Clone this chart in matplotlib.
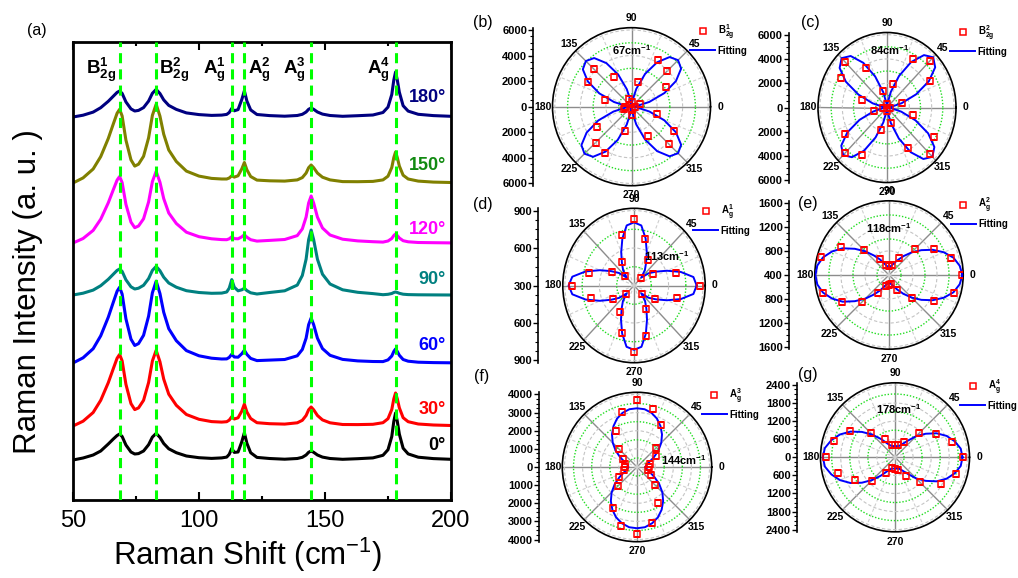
import numpy as np
import matplotlib
matplotlib.use('Agg')
import matplotlib.pyplot as plt
from matplotlib.ticker import MultipleLocator, AutoMinorLocator

plt.rcParams['font.family'] = ['Liberation Sans', 'DejaVu Sans']
plt.rcParams['mathtext.fontset'] = 'custom'
plt.rcParams['mathtext.rm'] = 'Liberation Sans'
plt.rcParams['mathtext.bf'] = 'Liberation Sans:bold'
plt.rcParams['mathtext.it'] = 'Liberation Sans:italic'

# ---------------- panel (a): Raman spectra ----------------
shift = [50, 54, 58, 61, 64, 66, 67.5, 68.5, 69.5, 71, 73, 74.5, 76, 78, 80,
         81.5, 83, 84.5, 86, 88, 91, 95, 100, 105, 109, 111, 112, 113, 114, 115.5,
         117, 118, 119, 120.5, 123, 128, 134, 139, 141, 142.5, 143.5, 144.5, 145.5, 147, 149,
         152, 157, 163, 169, 173, 175, 176.5, 177.3, 178, 178.7, 179.5, 181, 183, 187, 193, 200]

i_0deg = [0, 2, 5, 9, 16, 21, 24.5, 26, 23.5, 15, 8, 6, 6.4, 9, 15.3,
          22.9, 26.6, 22.6, 16.5, 11.2, 7.3, 4, 2.3, 1.6, 2.1, 2.9, 5.7, 11.6, 7.6, 8,
          18.4, 27.3, 16.8, 7.3, 2.6, 1.5, 0.8, 1.5, 2.7, 5, 7.7, 9, 7.7, 5, 2.9,
          1.5, 0.7, 1.3, 2.1, 4.7, 10.3, 23.5, 38.5, 47, 38.5, 25.9, 11.8, 6.1, 2.8, 1.4, 0.7]
i_30deg = [0, 4.8, 13.5, 25.7, 43.3, 57.4, 67.8, 71.6, 65.1, 41.7, 22.4, 16.4, 18.1, 25.7, 43.5,
           65, 75.7, 64.3, 46.9, 31.8, 20.7, 11.5, 6.7, 4.4, 3.9, 4.3, 5.9, 9.3, 7, 8.2,
           15, 22, 14, 7.5, 3.3, 2.3, 1.9, 3.2, 5.7, 10.5, 16.2, 19, 16.2, 10.5, 6.1,
           3.2, 1.5, 1.4, 1.7, 3.3, 7.3, 16.5, 27.1, 33, 27.1, 18.2, 8.3, 4.3, 2, 1, 0.5]
i_60deg = [0, 5.2, 14.3, 27.2, 45.8, 60.8, 71.8, 75.8, 68.9, 44.2, 23.9, 17.5, 19.4, 27.7, 46.9,
           70.2, 81.8, 69.5, 50.7, 34.3, 22.3, 12.4, 7.2, 4.8, 4, 4.1, 5.6, 8.8, 6, 5.8,
           9.3, 12.7, 8.6, 4.6, 2.4, 2.9, 3.5, 7.2, 13.5, 24.8, 38.3, 45, 38.3, 24.8, 14.4,
           7.7, 3.6, 2.1, 1.5, 1.4, 3.1, 7, 11.5, 14, 11.5, 7.7, 3.5, 1.8, 0.8, 0.4, 0.2]
i_90deg = [0, 1.8, 4.9, 9.3, 15.7, 20.8, 24.6, 26, 23.6, 15.2, 8.2, 6, 6.8, 9.7, 16.4,
           24.6, 28.6, 24.3, 17.8, 12, 7.8, 4.3, 2.5, 1.7, 1.9, 3, 6.9, 15.4, 7.8, 4.2,
           5.2, 6.7, 4.4, 2.2, 1, 2.5, 4.2, 9.9, 19.5, 35.8, 55.3, 65, 55.3, 35.8, 20.8,
           11, 5.2, 2.7, 1.4, 0.3, 0.7, 1.5, 2.5, 3, 2.5, 1.7, 0.8, 0.4, 0.2, 0.1, 0]
i_120deg = [0, 4.5, 12.6, 23.8, 40.2, 53.3, 62.9, 66.5, 60.4, 38.7, 20.9, 15.3, 17, 24.2, 41.1,
            61.4, 71.6, 60.8, 44.4, 30, 19.5, 10.8, 6.3, 4.2, 3.4, 3.3, 4.2, 6.2, 4.4, 4.2,
            6.2, 8.3, 5.8, 3.3, 1.9, 2.6, 3.5, 7.4, 14.1, 25.9, 40, 47, 40, 25.9, 15,
            8, 3.8, 2.1, 1.3, 0.9, 2, 4.5, 7.4, 9, 7.4, 5, 2.3, 1.2, 0.5, 0.3, 0.1]
i_150deg = [0, 5.1, 14, 26.4, 44.5, 59.1, 69.8, 73.7, 67, 42.9, 23.2, 16.9, 18.8, 26.7, 45.2,
            67.6, 78.8, 66.9, 48.8, 33, 21.5, 11.9, 6.9, 4.6, 4, 4, 5, 7.2, 5.9, 7.2,
            14.2, 20.5, 13.2, 6.5, 2.9, 2.2, 1.9, 3.1, 5.4, 9.9, 15.3, 18, 15.3, 9.9, 5.8,
            3.1, 1.4, 1.3, 1.6, 3.1, 6.8, 15.5, 25.4, 31, 25.4, 17, 7.8, 4, 1.9, 0.9, 0.5]
i_180deg = [0, 1.8, 4.9, 9.3, 15.7, 20.8, 24.6, 26, 23.6, 15.1, 8.1, 6, 6.6, 9.4, 15.9,
            23.7, 27.6, 23.5, 17.1, 11.6, 7.6, 4.1, 2.4, 1.6, 1.9, 2.6, 4.5, 8.6, 6.2, 7.4,
            17.6, 26.2, 16, 7.1, 2.5, 1.4, 0.8, 1.5, 2.7, 5, 7.7, 9, 7.7, 5, 2.9,
            1.5, 0.7, 1.3, 2, 4.5, 9.9, 22.5, 36.9, 45, 36.9, 24.8, 11.3, 5.9, 2.7, 1.4, 0.7]

spec_angles = ['0°', '30°', '60°', '90°', '120°', '150°', '180°']
spec_offsets = [40, 74, 137, 205, 257, 317, 383]
spec_label_y = [55, 90, 155, 220, 270, 335, 403]
spec_colors = ['#000000', '#ff0000', '#0000ff', '#008080', '#ff00ff', '#808000', '#000080']
label_colors = ['#000000', '#ff0000', '#0000ff', '#008080', '#ff00ff', '#118a11', '#000080']

peak_pos = [68.5, 83, 113, 118, 144.5, 178]
peak_names = [r'$\mathbf{B}^{\mathbf{1}}_{\mathbf{2g}}$', r'$\mathbf{B}^{\mathbf{2}}_{\mathbf{2g}}$',
              r'$\mathbf{A}^{\mathbf{1}}_{\mathbf{g}}$', r'$\mathbf{A}^{\mathbf{2}}_{\mathbf{g}}$',
              r'$\mathbf{A}^{\mathbf{3}}_{\mathbf{g}}$', r'$\mathbf{A}^{\mathbf{4}}_{\mathbf{g}}$']
peak_name_x = [61.3, 90, 106, 123.8, 137.7, 171.4]

# ---------------- panels (b)-(g): polar plots ----------------
b_data = [300, 680, 3100, 3970, 4200, 2010, 350, 650, 2710, 4150, 3910, 2110,
          500, 570, 3130, 3970, 4170, 1960, 650, 300, 2630, 4120, 3810, 2090]
c_data = [300, 1383, 4420, 5458, 4653, 2013, 250, 1405, 3753, 5350, 4800, 2318,
          350, 1233, 4314, 5329, 4525, 1920, 300, 1340, 3844, 5439, 4853, 2393]
d_data = [873, 676, 492, 387, 537, 684, 831, 718, 513, 406, 520, 702,
          835, 688, 511, 398, 548, 694, 836, 717, 513, 395, 509, 690]
e_data = [1611, 1468, 1257, 1013, 723, 581, 550, 579, 700, 978, 1317, 1569,
          np.nan, 1530, 1310, 1037, 755, 590, 567, 559, 681, 950, 1261, 1527]
f_data = [650, 720, 1230, 1480, 2670, 3320, 3670, 3130, 2280, 1380, 860, 700,
          660, 730, 1140, 1520, 2640, 3350, 3700, 3170, 2320, 1440, 920, 640]
g_data = [2262, 1970, 1567, 1125, 603, 430, 400, 420, 696, 1147, 1743, 2086,
          2284, 1953, 1523, 1093, 614, 381, 400, 442, 729, 1170, 1767, 2108]

b_fit = [50, 412, 1442, 2781, 4017, 4893, 5150, 4893, 4017, 2781, 1442, 412, 50,
         404, 1414, 2727, 3939, 4798, 5050, 4798, 3939, 2727, 1414, 404, 50,
         416, 1456, 2808, 4056, 4940, 5200, 4940, 4056, 2808, 1456, 416, 50,
         412, 1442, 2781, 4017, 4893, 5150, 4893, 4017, 2781, 1442, 412, 50]
c_fit = [60, 351, 1346, 2808, 4329, 5441, 5850, 5441, 4329, 2808, 1346, 351, 60,
         345, 1323, 2760, 4255, 5348, 5750, 5348, 4255, 2760, 1323, 345, 60,
         333, 1277, 2664, 4107, 5162, 5550, 5162, 4107, 2664, 1277, 333, 60,
         345, 1323, 2760, 4255, 5348, 5750, 5348, 4255, 2760, 1323, 345, 60]
d_fit = [844, 820, 720, 609, 522, 462, 390, 455, 510, 590, 690, 785, 805,
         785, 690, 590, 510, 455, 390, 465, 530, 620, 735, 840, 868,
         840, 735, 620, 528, 463, 390, 458, 515, 595, 698, 795, 815,
         795, 698, 595, 515, 458, 390, 462, 522, 609, 720, 820, 844]
e_fit = [1624, 1587, 1512, 1389, 1240, 1080, 931, 796, 684, 610, 561, 542, 536,
         542, 561, 610, 697, 808, 956, 1117, 1290, 1426, 1537, 1605, 1625,
         1605, 1537, 1426, 1290, 1117, 956, 808, 697, 610, 561, 542, 536,
         542, 561, 610, 684, 796, 931, 1080, 1240, 1389, 1512, 1587, 1624]
f_fit = [474, 494, 577, 742, 1071, 1483, 1895, 2266, 2596, 2884, 3090, 3214, 3238,
         3214, 3090, 2884, 2596, 2266, 1895, 1483, 1071, 742, 577, 494, 474,
         515, 597, 783, 1112, 1545, 1978, 2369, 2719, 3008, 3214, 3350, 3378,
         3350, 3214, 3008, 2719, 2369, 1978, 1545, 1112, 783, 597, 515, 474]
g_fit = [2240, 2200, 2052, 1854, 1594, 1285, 989, 692, 519, 420, 383, 376, 376,
         376, 388, 433, 544, 766, 1063, 1384, 1706, 1978, 2188, 2348, 2395,
         2348, 2188, 1978, 1706, 1384, 1063, 766, 544, 433, 388, 376, 376,
         376, 383, 420, 519, 692, 989, 1285, 1594, 1854, 2052, 2200, 2240]

data_theta = np.arange(0, 360, 15)
fit_theta = np.arange(0, 360.1, 7.5)

panel_tags = ['(b)', '(c)', '(d)', '(e)', '(f)', '(g)']
panel_freq = ['67', '84', '113', '118', '144', '178']
mode_names = [r'$\mathbf{B_{2g}^{1}}$', r'$\mathbf{B_{2g}^{2}}$', r'$\mathbf{A_{g}^{1}}$',
              r'$\mathbf{A_{g}^{2}}$', r'$\mathbf{A_{g}^{3}}$', r'$\mathbf{A_{g}^{4}}$']
r_base = [0, 0, 300, 400, 0, 0]
r_span = [6000, 6000, 600, 1200, 4000, 2400]
r_step = [2000, 2000, 300, 400, 1000, 600]
theta_labels = ['0', '45', '90', '135', '180', '225', '270', '315']

# layout in pixels: (centre x, centre y, x radius, y radius)
polar_geom = [(631.5, 106.7, 79, 79), (887, 107.5, 69, 75), (634, 285.5, 71.2, 77.2),
              (889, 275, 74.2, 74.2), (637, 467, 74.7, 74.7), (895, 457.3, 74.5, 74.5)]
axis_x = [533.3, 789, 538.3, 789.3, 539.3, 797.3]
legend_xy = [(690, 28.3), (950, 29.3), (693, 208.3), (950.7, 201.7), (701.7, 392.3), (960, 383.3)]
freq_xy = [(631.7, 50), (890, 50), (667, 256.5), (888.3, 228), (683.3, 460.5), (898.3, 409.3)]
tag_xy = [(482.7, 22.7), (810, 22.7), (483.3, 205), (808.3, 203.3), (481.7, 376.7), (808.3, 375)]

W, H = 1018, 578


def fx(px):
    return px / W


def fy(py):
    return 1 - py / H


fig = plt.figure(figsize=(W / 100, H / 100), dpi=100)

# ---- (a) ----
ax = fig.add_axes([fx(73), fy(500), (451 - 73) / W, (500 - 42) / H])
curves = [i_0deg, i_30deg, i_60deg, i_90deg, i_120deg, i_150deg, i_180deg]
for curve, off, col in zip(curves, spec_offsets, spec_colors):
    ax.plot(shift, np.array(curve) + off, color=col, lw=2.2, solid_joinstyle='round')
for pos in peak_pos:
    ax.axvline(pos, color='#00ff00', lw=2.2, dashes=(3.3, 2.0), zorder=5)
for name, x in zip(peak_names, peak_name_x):
    ax.text(x, 430, name, fontsize=13.5, ha='center', va='center')
for lab, y, col in zip(spec_angles, spec_label_y, label_colors):
    ax.text(198, y, lab, fontsize=13, fontweight='bold', color=col, ha='right', va='center')
ax.set_xlim(50, 200)
ax.set_ylim(0, 458)
ax.set_xticks([50, 100, 150, 200])
ax.xaxis.set_minor_locator(MultipleLocator(25))
ax.set_yticks([])
ax.tick_params(axis='x', which='both', direction='in', top=True, labelsize=17, width=1.5)
ax.tick_params(axis='x', which='major', length=6, pad=7)
ax.tick_params(axis='x', which='minor', length=3)
for sp in ax.spines.values():
    sp.set_linewidth(2)

fig.text(fx(28), fy(292), 'Raman Intensity (a. u. )', rotation=90, fontsize=22.5,
         ha='center', va='center')
fig.text(fx(248), fy(555), r'Raman Shift (cm$^{-1}$)', fontsize=22.5, ha='center', va='center')
fig.text(fx(37), fy(30), '(a)', fontsize=11.5, ha='center', va='center')

# ---- (b)-(g) ----
all_data = [b_data, c_data, d_data, e_data, f_data, g_data]
all_fit = [b_fit, c_fit, d_fit, e_fit, f_fit, g_fit]

for k in range(6):
    cx, cy, rx, ry = polar_geom[k]
    base, span, step = r_base[k], r_span[k], r_step[k]
    edge = 1.03 * span

    # linear radial scale drawn at the left
    axl = fig.add_axes([fx(axis_x[k]), fy(cy + ry), 0.001, 2 * ry / H])
    axl.set_ylim(-edge, edge)
    majors = np.arange(-span, span + 1, step)
    axl.set_yticks(majors)
    axl.set_yticklabels([str(int(round(base + abs(v)))) for v in majors],
                        fontsize=8, fontweight='bold')
    axl.yaxis.set_minor_locator(AutoMinorLocator(4))
    axl.set_xticks([])
    axl.tick_params(axis='y', which='major', direction='out', length=3.5, width=1, pad=1)
    axl.tick_params(axis='y', which='minor', direction='out', length=2, width=0.8)
    for side in ['right', 'top', 'bottom']:
        axl.spines[side].set_visible(False)
    axl.spines['left'].set_linewidth(1.2)
    axl.patch.set_visible(False)

    axp = fig.add_axes([fx(cx - rx), fy(cy + ry), 2 * rx / W, 2 * ry / H], projection='polar')
    axp.set_aspect('auto')
    axp.set_ylim(base, base + edge)
    axp.set_xticks(np.deg2rad(np.arange(0, 360, 45)))
    axp.set_xticklabels(theta_labels, fontsize=7.5, fontweight='bold')
    axp.set_xticks(np.deg2rad(np.arange(22.5, 360, 45)), minor=True)
    axp.set_yticks(np.arange(base + step, base + span + 1, step))
    axp.set_yticks(np.arange(base + step / 2, base + span, step), minor=True)
    axp.set_yticklabels([])
    axp.tick_params(axis='y', which='both', length=0)
    axp.tick_params(axis='x', which='both', length=0, pad=0)
    axp.xaxis.grid(True, which='major', color='#8c8c8c', lw=1.0, ls='-')
    axp.xaxis.grid(True, which='minor', color='#cfcfcf', lw=0.8, ls=(0, (3, 2)))
    axp.yaxis.grid(True, which='major', color='#c4c4c4', lw=0.8, ls=(0, (3, 2)))
    axp.yaxis.grid(True, which='minor', color='#22dd22', lw=1.0, ls=(0, (1, 1.3)))
    axp.spines['polar'].set_linewidth(1.2)

    fit_line, = axp.plot(np.deg2rad(fit_theta), all_fit[k], color='#0000ff', lw=1.4, zorder=4)
    pts, = axp.plot(np.deg2rad(data_theta), all_data[k], 's', mfc='none', mec='#ff0000',
                    ms=4.5, mew=1.1, zorder=5)

    lx, ly = legend_xy[k]
    leg = axp.legend([pts, fit_line], [mode_names[k], 'Fitting'], loc='upper left',
                     bbox_to_anchor=(fx(lx), fy(ly - 6)), bbox_transform=fig.transFigure,
                     frameon=False, borderpad=0, borderaxespad=0, handlelength=2.6,
                     handletextpad=0.25, labelspacing=0.4,
                     prop={'weight': 'bold', 'size': 7})

    qx, qy = freq_xy[k]
    fig.text(fx(qx), fy(qy), panel_freq[k] + r'cm$^{\mathbf{-1}}$', fontsize=8,
             fontweight='bold', ha='center', va='center')
    tx, ty = tag_xy[k]
    fig.text(fx(tx), fy(ty), panel_tags[k], fontsize=11.5, ha='center', va='center')

fig.savefig('out.png', dpi=100)
